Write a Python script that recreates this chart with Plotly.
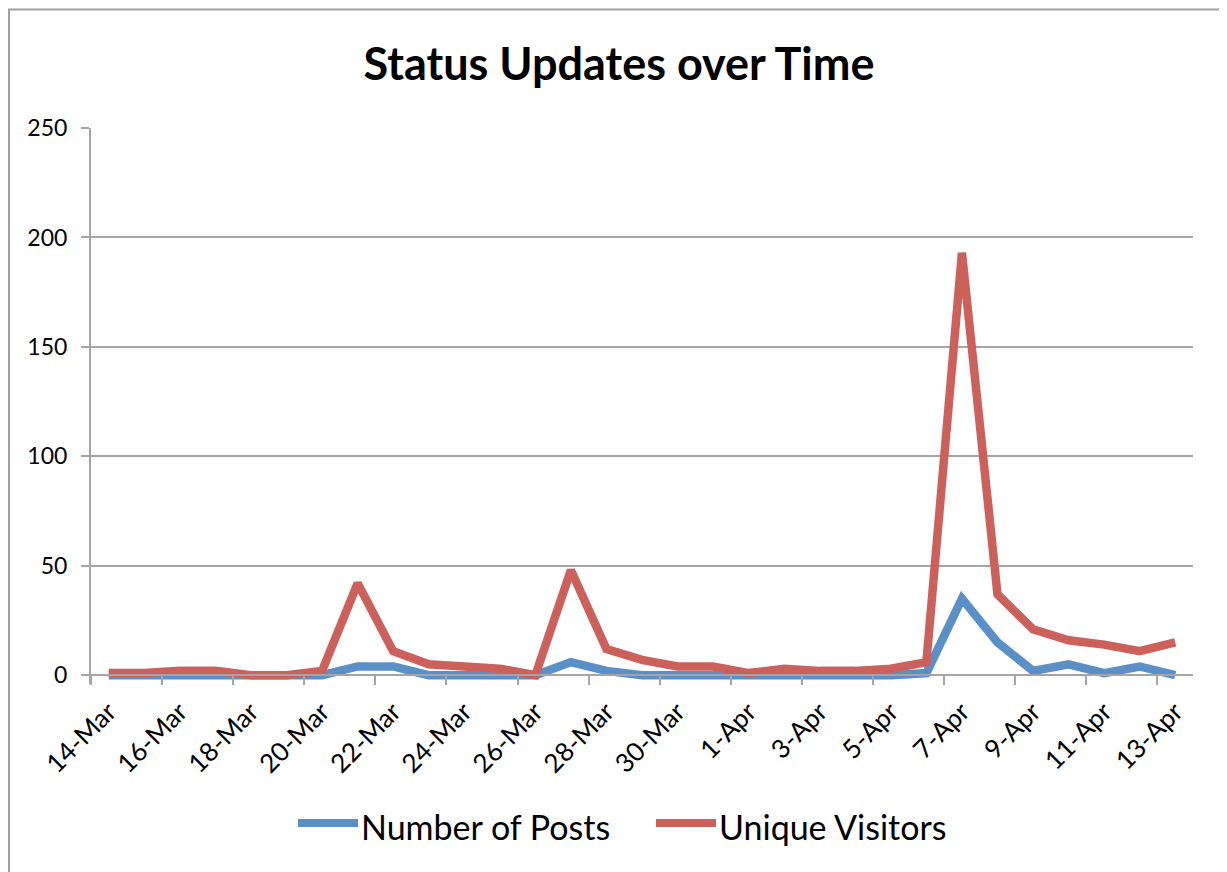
import plotly.graph_objects as go

dates = ["14-Mar", "15-Mar", "16-Mar", "17-Mar", "18-Mar", "19-Mar", "20-Mar", "21-Mar",
         "22-Mar", "23-Mar", "24-Mar", "25-Mar", "26-Mar", "27-Mar", "28-Mar", "29-Mar",
         "30-Mar", "31-Mar", "1-Apr", "2-Apr", "3-Apr", "4-Apr", "5-Apr", "6-Apr",
         "7-Apr", "8-Apr", "9-Apr", "10-Apr", "11-Apr", "12-Apr", "13-Apr"]
posts = [0, 0, 0, 0, 0, 0, 0, 4, 4, 0, 0, 0, 0, 6, 2, 0,
         0, 0, 0, 0, 0, 0, 0, 1, 35, 15, 2, 5, 1, 4, 0]
visitors = [1, 1, 2, 2, 0, 0, 2, 42, 11, 5, 4, 3, 0, 48, 12, 7,
            4, 4, 1, 3, 2, 2, 3, 6, 193, 37, 21, 16, 14, 11, 15]
y_ticks = [0, 50, 100, 150, 200, 250]

BLUE = "#5b8fc8"
RED = "#cc615b"
GRID = "#a5a5a5"
FONT = "Lato, Open Sans, sans-serif"

OFF = 8  # browser body margin
W, H = 1227 - OFF, 872 - OFF
# target page-pixel positions of plot area
PL, PR, PT, PB = 91, 1193, 128, 684
L, T = PL - OFF, PT - OFF
R = W - (PR - OFF)
B = H - (PB - OFF)
PW, PH = W - L - R, H - T - B
YMIN, YMAX = -4, 250

def px_x(p):
    return (p - OFF - L) / PW

def px_y(p):
    return (H - B - (p - OFF)) / PH

fig = go.Figure()
fig.add_trace(go.Scatter(x=dates, y=posts, mode="lines", name="Number of Posts",
                         line=dict(color=BLUE, width=8.5), showlegend=False))
fig.add_trace(go.Scatter(x=dates, y=visitors, mode="lines", name="Unique Visitors",
                         line=dict(color=RED, width=8.5), showlegend=False))

# chart-area border (left and top edges visible)
fig.add_shape(type="rect", xref="paper", yref="paper",
              x0=px_x(9), x1=px_x(1227 + 30), y0=px_y(872 + 30), y1=px_y(9.5),
              line=dict(color="#a0a0a0", width=2), layer="below")

# legend (drawn manually to match long symbol lines)
legend_items = [("Number of Posts", BLUE, 298, 358), ("Unique Visitors", RED, 656, 716)]
for name, color, x0, x1 in legend_items:
    fig.add_shape(type="line", xref="paper", yref="paper",
                  x0=px_x(x0), x1=px_x(x1), y0=px_y(823), y1=px_y(823),
                  line=dict(color=color, width=8))
    fig.add_annotation(text=name, xref="paper", yref="paper", x=px_x(x1 + 1), y=px_y(826),
                       xanchor="left", yanchor="middle", showarrow=False,
                       font=dict(family=FONT, size=34, color="black"))

fig.update_layout(
    width=W, height=H,
    margin=dict(l=L, r=R, t=T, b=B),
    paper_bgcolor="white", plot_bgcolor="white",
    title=dict(text="<b>Status Updates over Time</b>", x=(619 - OFF) / W, xref="container",
               y=1 - (64 - OFF) / H, yref="container", xanchor="center", yanchor="middle",
               font=dict(family=FONT, size=45, color="black")),
    xaxis=dict(type="category", range=[-0.5, len(dates) - 0.5],
               anchor="free", position=(0 - YMIN) / (YMAX - YMIN),
               tickson="boundaries", dtick=2, ticks="outside", ticklen=9, tickwidth=2,
               tickcolor=GRID, showline=True, linecolor=GRID, linewidth=2,
               showgrid=False, tickangle=-45, ticklabelstandoff=10,
               tickfont=dict(family=FONT, size=26, color="black")),
    yaxis=dict(range=[YMIN, YMAX], tickvals=y_ticks, ticks="outside", ticklen=8,
               tickwidth=2, tickcolor=GRID, showline=True, linecolor=GRID, linewidth=2,
               showgrid=True, gridcolor=GRID, gridwidth=2, zeroline=False,
               ticklabelstandoff=9,
               tickfont=dict(family=FONT, size=23, color="black")),
)

fig.write_html("out.html")
